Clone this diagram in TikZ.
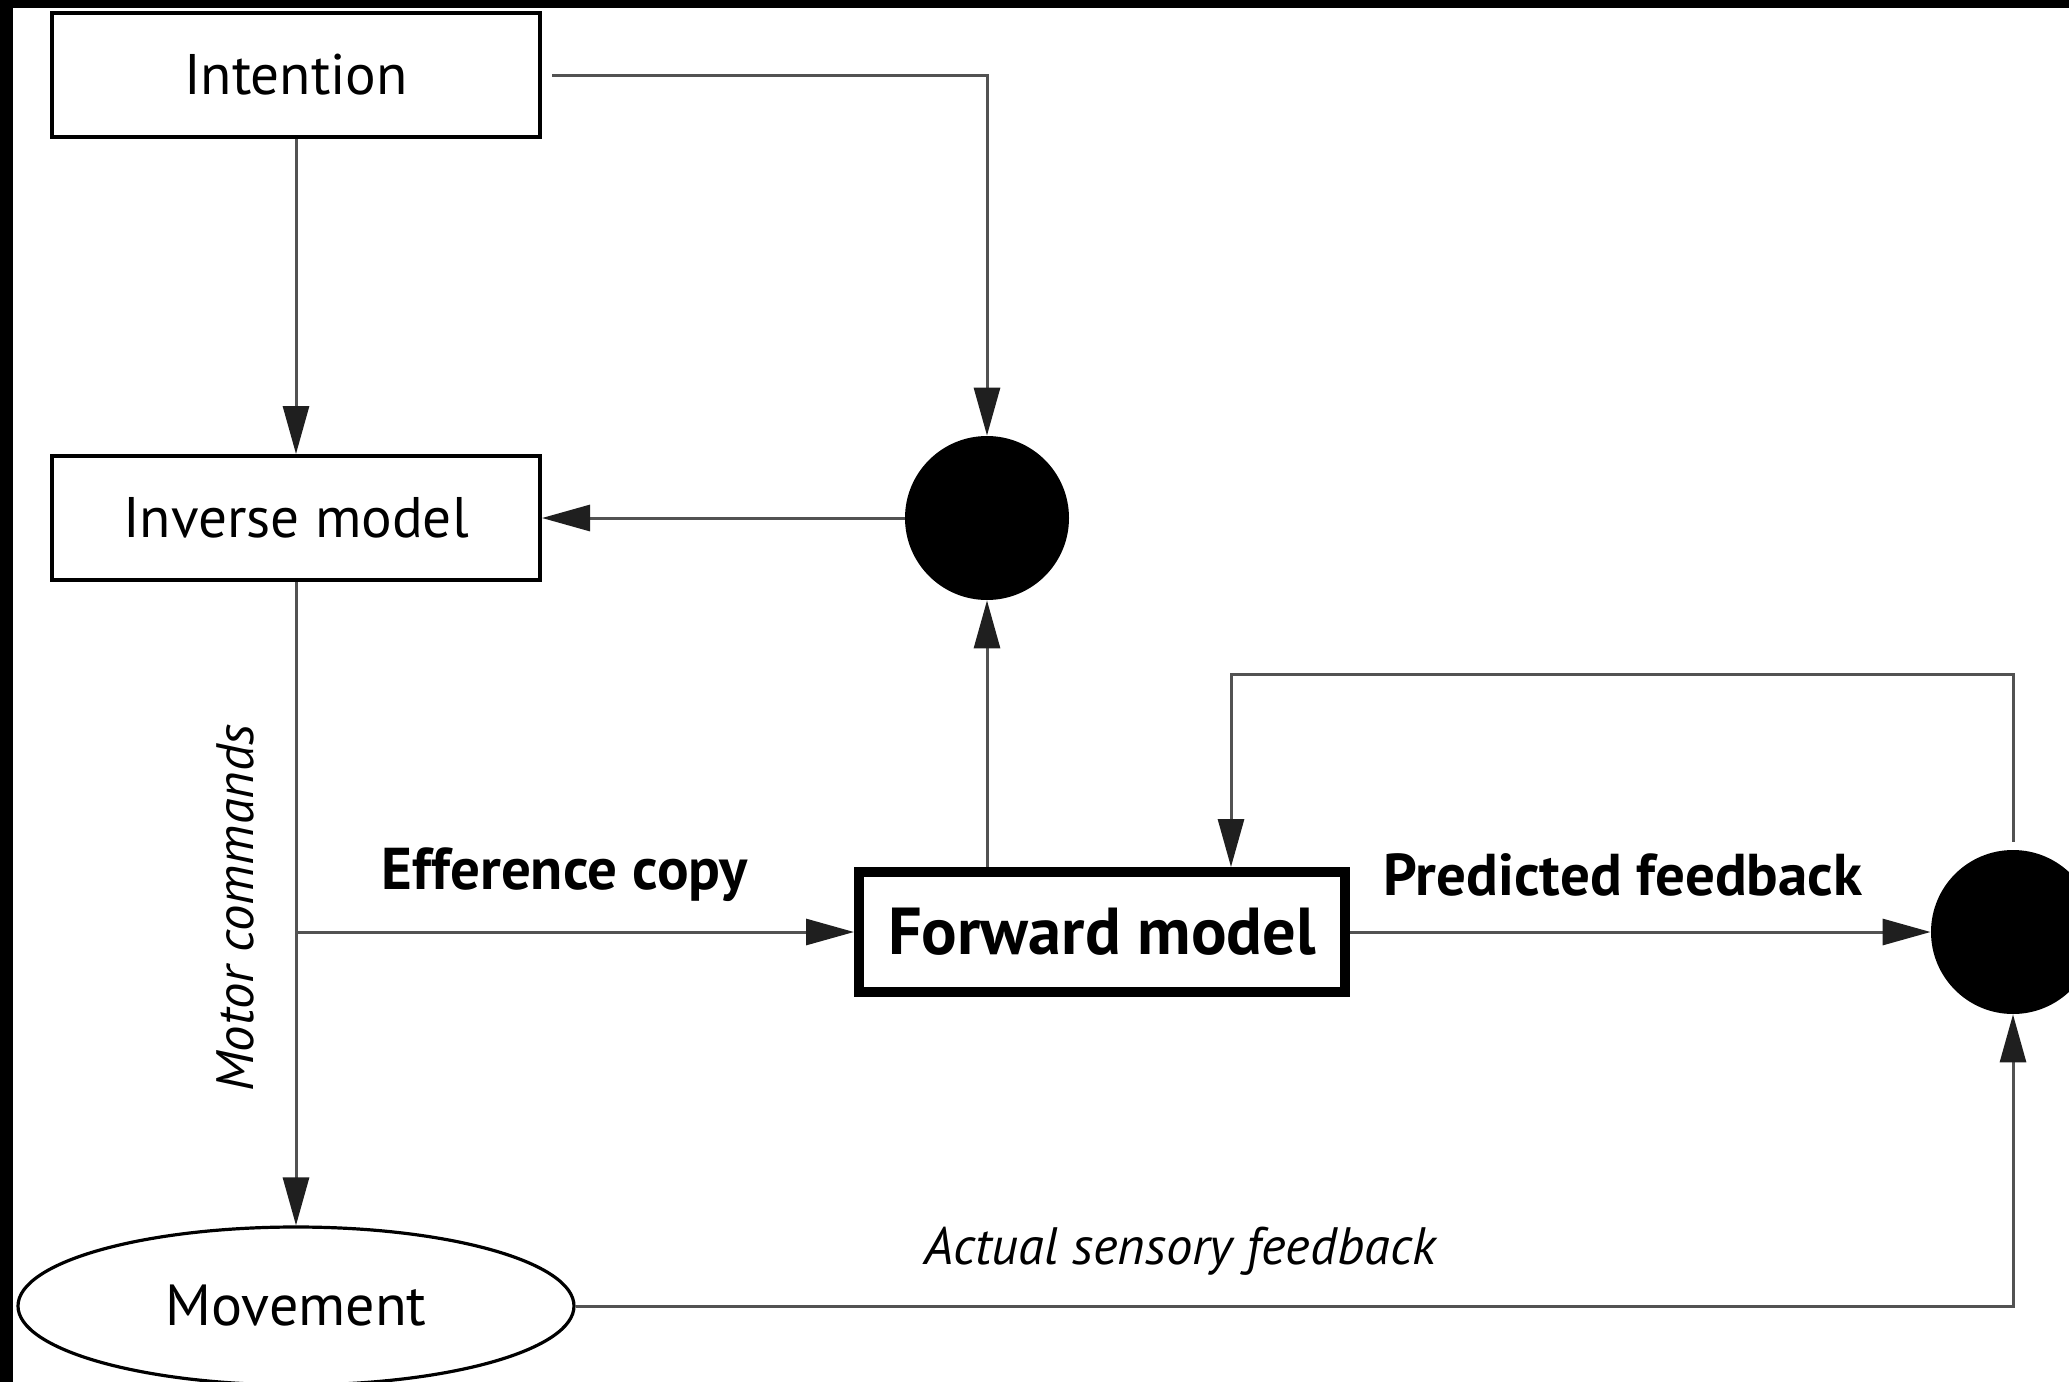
\documentclass[tikz,border=0pt]{standalone}
\usepackage{fontspec}
\setmainfont{PT Sans}
\usetikzlibrary{arrows.meta,shapes.geometric,calc}

\tikzset{
  box/.style={draw=black, line width=2pt, fill=white, minimum width=244pt, minimum height=62pt, inner sep=0pt, font=\fontsize{28.6}{33}\selectfont},
  fwdbox/.style={box, line width=5pt, minimum width=243pt, minimum height=60pt, font=\bfseries\fontsize{33.2}{38}\selectfont},
  dot/.style={circle, fill=black, minimum size=82pt, inner sep=0pt},
  oval/.style={ellipse, draw=black, line width=1.6pt, fill=white, minimum width=278pt, minimum height=79pt, inner sep=0pt, font=\fontsize{29}{33}\selectfont},
  conn/.style={draw=black!68, line width=1.5pt, -{Triangle[length=24pt, width=13pt, fill=black!88, color=black!88]}},
  lbl/.style={font=\bfseries\fontsize{29.5}{34}\selectfont, inner sep=0pt},
  ilbl/.style={font=\itshape\fontsize{26.3}{30}\selectfont, inner sep=0pt}
}

\begin{document}
\begin{tikzpicture}[x=0.5pt, y=-0.5pt]
  \useasboundingbox (0,0) rectangle (2069,1382);
  \clip (0,0) rectangle (2069,1382);
  \fill[white] (0,0) rectangle (2069,1382);
  % dark frame strips along top and left
  \fill[black] (0,0) rectangle (2069,8);
  \fill[black] (0,0) rectangle (13,1382);

  % blocks
  \node[box] (int) at (296,75) {Intention};
  \node[box] (inv) at (296,518) {Inverse model};
  \node[dot] (c1) at (987,518) {};
  \node[fwdbox] (fwd) at (1102,932) {Forward model};
  \node[dot] (c2) at (2013,932) {};
  \node[oval] (mov) at (296,1306) {Movement};

  \coordinate (branch) at (296,932);
  \coordinate (loop) at (1231,674);

  % connectors
  \draw[conn, shorten <=5pt] (int.east) -| (c1.north);
  \draw[conn] (int.south) -- (inv.north);
  \draw[conn] (c1.west) -- (inv.east);
  \draw[conn] (fwd.north -| c1) -- (c1.south);
  \draw[conn] (inv.south) -- (mov.north);
  \draw[conn] (branch) -- (fwd.west);
  \draw[conn] (fwd.east) -- (c2.west);
  \draw[conn, shorten <=4pt] (c2.north) |- (loop) -- (loop |- fwd.north);
  \draw[conn] (mov.east) -| (c2.south);

  % labels
  \node[lbl] (eff) at (565,875) {Efference copy};
  \node[lbl] (pred) at (1623,875) {Predicted feedback};
  \node[ilbl] (act) at (1180,1251) {Actual sensory feedback};
  \node[ilbl, rotate=90] (mot) at (235,908) {Motor commands};
\end{tikzpicture}
\end{document}
